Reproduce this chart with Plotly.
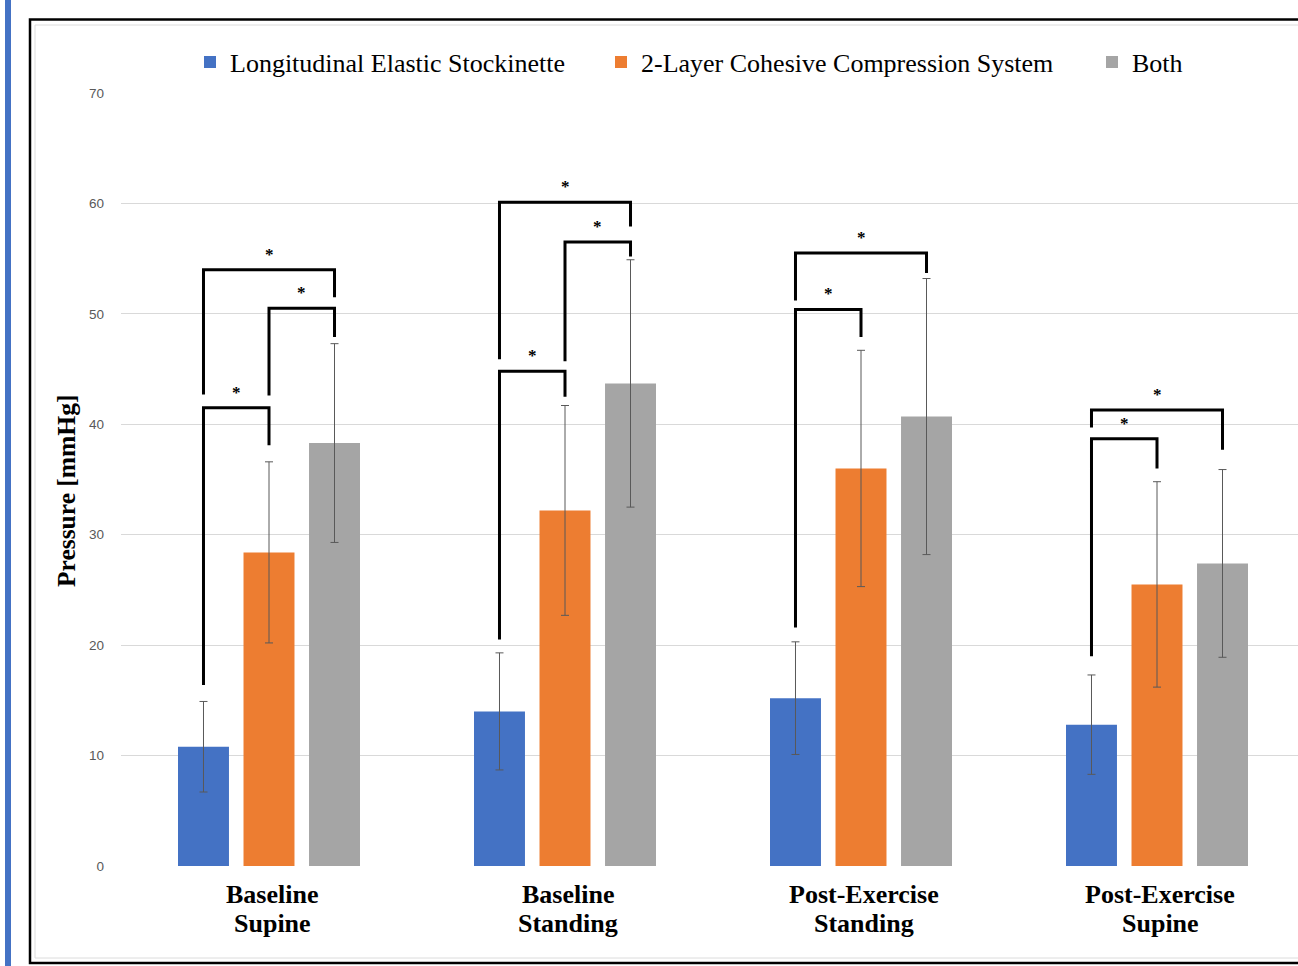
import plotly.graph_objects as go

# ---------------- data ----------------
categories = ["Baseline Supine", "Baseline Standing", "Post-Exercise Standing", "Post-Exercise Supine"]
label_line1 = ["Baseline", "Baseline", "Post-Exercise", "Post-Exercise"]
label_line2 = ["Supine", "Standing", "Standing", "Supine"]

series_names = ["Longitudinal Elastic Stockinette", "2-Layer Cohesive Compression System", "Both"]
stockinette = [10.8, 14.0, 15.2, 12.8]
stockinette_sd = [4.1, 5.3, 5.1, 4.5]
cohesive = [28.4, 32.2, 36.0, 25.5]
cohesive_sd = [8.2, 9.5, 10.7, 9.3]
both = [38.3, 43.7, 40.7, 27.4]
both_sd = [9.0, 11.2, 12.5, 8.5]

# significance brackets: group index, first bar, second bar, left foot, top, right foot (mmHg)
br_group = [0, 0, 0, 1, 1, 1, 2, 2, 3, 3]
br_from = [0, 1, 0, 0, 1, 0, 0, 0, 0, 0]
br_to = [1, 2, 2, 1, 2, 2, 1, 2, 1, 2]
br_left = [16.4, 42.6, 42.7, 20.5, 45.7, 45.9, 21.6, 51.2, 19.0, 39.7]
br_top = [41.5, 50.5, 54.0, 44.8, 56.5, 60.1, 50.4, 55.5, 38.7, 41.3]
br_right = [38.1, 47.9, 51.5, 42.5, 55.2, 57.9, 47.9, 53.7, 36.0, 37.7]

y_ticks = [0, 10, 20, 30, 40, 50, 60, 70]

# ---------------- styling ----------------
W, H = 1298, 966
ML, MR, MT, MB = 121, 0, 93, 100
PW, PH = W - ML - MR, H - MT - MB
colors = ["#4472C4", "#ED7D31", "#A5A5A5"]
BARGAP, GROUPGAP = 0.336, 0.222
slot = (1 - BARGAP) / 3
offsets = [-slot, 0.0, slot]
cat_px = 296.0
x_max = -0.5 + PW / cat_px

def px(xp):
    return (xp - ML) / PW

def py(yp):
    return (H - MB - yp) / PH

serif = "Liberation Serif, Times New Roman, serif"

fig = go.Figure()
xs = list(range(len(categories)))
vals = [stockinette, cohesive, both]
sds = [stockinette_sd, cohesive_sd, both_sd]
legend_ids = ["legend", "legend2", "legend3"]
for i in range(3):
    fig.add_trace(go.Bar(
        x=xs, y=vals[i], name=series_names[i],
        marker=dict(color=colors[i], line=dict(width=0)),
        error_y=dict(type="data", array=sds[i], visible=True,
                     color="#595959", thickness=1, width=4),
        legend=legend_ids[i],
    ))

shapes = []
annotations = []
for k in range(len(br_group)):
    g = br_group[k]
    xa = g + offsets[br_from[k]]
    xb = g + offsets[br_to[k]]
    path = f"M {xa},{br_left[k]} L {xa},{br_top[k]} L {xb},{br_top[k]} L {xb},{br_right[k]}"
    shapes.append(dict(type="path", path=path, xref="x", yref="y",
                       line=dict(color="black", width=3), layer="above"))
    annotations.append(dict(x=(xa + xb) / 2, y=br_top[k], xref="x", yref="y",
                            text="*", showarrow=False, yanchor="bottom", yshift=4,
                            font=dict(family=serif, size=17, color="black", weight="bold")))

for i in range(len(categories)):
    annotations.append(dict(x=i, y=py(894), xref="x", yref="paper", text=label_line1[i],
                            showarrow=False, xshift=3, yanchor="middle",
                            font=dict(family=serif, size=26, color="black", weight="bold")))
    annotations.append(dict(x=i, y=py(923), xref="x", yref="paper", text=label_line2[i],
                            showarrow=False, xshift=3, yanchor="middle",
                            font=dict(family=serif, size=26, color="black", weight="bold")))

annotations.append(dict(x=px(66), y=py(491), xref="paper", yref="paper",
                        text="Pressure [mmHg]", textangle=-90, showarrow=False,
                        xanchor="center", yanchor="middle",
                        font=dict(family=serif, size=25.5, color="black", weight="bold")))

# frame decorations
shapes.append(dict(type="rect", xref="paper", yref="paper", x0=px(5), x1=px(11), y0=py(-5), y1=py(975),
                   fillcolor="#4472C4", line=dict(width=0), layer="below"))
shapes.append(dict(type="rect", xref="paper", yref="paper", x0=px(30), x1=px(1320), y0=py(19.5), y1=py(963),
                   line=dict(color="black", width=2.5), layer="above"))
shapes.append(dict(type="rect", xref="paper", yref="paper", x0=px(35), x1=px(1315), y0=py(25), y1=py(958),
                   line=dict(color="#dcdcdc", width=1), layer="below"))

legend_common = dict(orientation="h", yanchor="middle", xanchor="left",
                     bgcolor="rgba(0,0,0,0)", font=dict(family=serif, size=26, color="black"))
sym_px = [213, 624, 1115]
leg_shift = -3

fig.update_layout(
    width=W, height=H,
    margin=dict(l=ML, r=MR, t=MT, b=MB, autoexpand=False),
    paper_bgcolor="white", plot_bgcolor="white",
    barmode="group", bargap=BARGAP, bargroupgap=GROUPGAP,
    xaxis=dict(range=[-0.5, x_max], showticklabels=False, showgrid=False,
               zeroline=False, showline=False, ticks=""),
    yaxis=dict(range=[0, 70], tickvals=y_ticks, showgrid=True, gridcolor="#d9d9d9",
               gridwidth=1, zeroline=False, showline=False, ticks="",
               ticklabelstandoff=16,
               tickfont=dict(family="Liberation Sans, Arial, sans-serif", size=13.5, color="#595959")),
    legend=dict(x=px(sym_px[0] - 20 + leg_shift), y=py(62), **legend_common),
    legend2=dict(x=px(sym_px[1] - 20 + leg_shift), y=py(62), **legend_common),
    legend3=dict(x=px(sym_px[2] - 20 + leg_shift), y=py(62), **legend_common),
    shapes=shapes,
    annotations=annotations,
    showlegend=True,
)

fig.write_html("out.html", config={"displayModeBar": False},
               post_script="document.body.style.margin='0';document.body.style.overflow='hidden';")
